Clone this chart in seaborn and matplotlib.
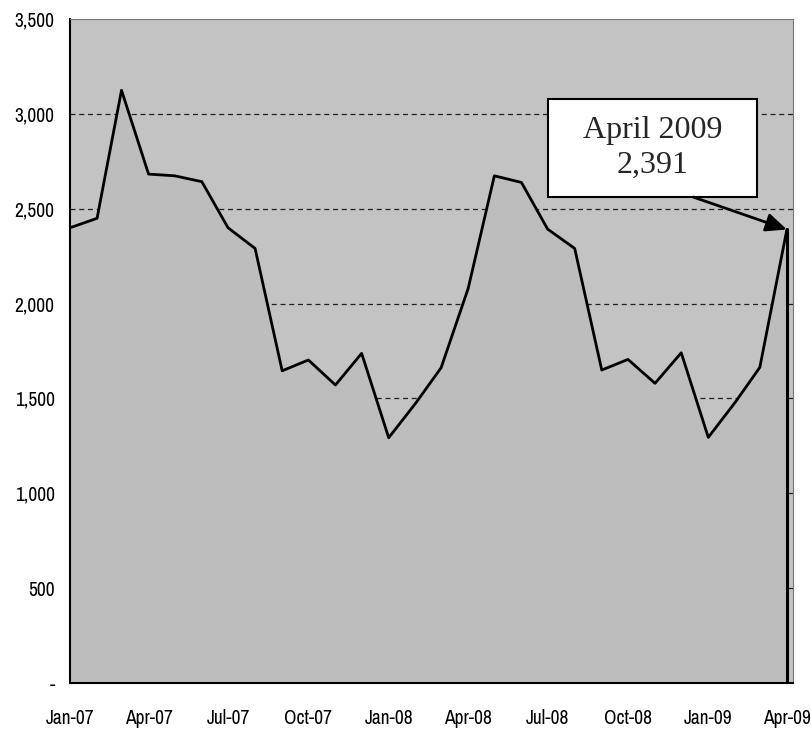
import numpy as np
import pandas as pd
import matplotlib
matplotlib.use('Agg')
import matplotlib.pyplot as plt
import matplotlib.dates as mdates
from matplotlib import font_manager
from matplotlib.patches import Rectangle
from matplotlib.ticker import FuncFormatter
import seaborn as sns

# monthly values, Jan-07 .. Apr-09
months = pd.date_range('2007-01-01', '2009-04-01', freq='MS')
values = [2400, 2450, 3125, 2683, 2674, 2643, 2400, 2291, 1646, 1703, 1571, 1738,
          1293, 1476, 1662, 2080, 2674, 2639, 2393, 2291, 1650, 1706, 1580, 1741,
          1295, 1481, 1664, 2391]
tick_dates = pd.date_range('2007-01-01', '2009-04-01', freq='QS')
y_ticks = [0, 500, 1000, 1500, 2000, 2500, 3000, 3500]
callout_text = 'April 2009\n2,391'

df = pd.DataFrame({'month': months, 'value': values})

# look for a narrow sans face, the tick labels are condensed
narrow = [f.name for f in font_manager.fontManager.ttflist
          if ('Narrow' in f.name or 'Condensed' in f.name) and 'Serif' not in f.name]
families = (narrow[:1] if narrow else []) + ['Liberation Sans', 'DejaVu Sans']

sns.set_theme(style='white')
plt.rcParams['font.family'] = families

fig = plt.figure(figsize=(8.11, 7.36), dpi=100)
ax = fig.add_axes([0.0863, 0.072, 0.8915, 0.902])
ax.set_facecolor('#c3c3c3')

# dashed grid sits behind the area, so it only shows above the line
for y in y_ticks[1:-1]:
    ax.axhline(y, color='#222222', lw=0.9, ls=(0, (4, 3)), zorder=1)

ax.fill_between(df['month'], 0, df['value'], color='#bdbdbd', zorder=2, lw=0)
sns.lineplot(data=df, x='month', y='value', color='black', lw=2, ax=ax, zorder=3)
ax.plot([months[-1], months[-1]], [0, values[-1]], color='black', lw=2.2, zorder=3)

ax.set_xlim(months[0], months[-1] + pd.Timedelta(days=7))
ax.set_ylim(0, 3500)
ax.set_yticks(y_ticks)
ax.yaxis.set_major_formatter(FuncFormatter(lambda v, p: '-' if v == 0 else f'{v:,.0f}'))
ax.set_xticks(tick_dates)
ax.xaxis.set_major_formatter(mdates.DateFormatter('%b-%y'))

ax.tick_params(axis='both', which='major', labelsize=14, colors='black',
               direction='out', length=5, width=1)
ax.tick_params(axis='x', pad=14)
ax.tick_params(axis='y', pad=6)
ax.set_xlabel('')
ax.set_ylabel('')

for side in ['left', 'bottom']:
    ax.spines[side].set_color('black')
    ax.spines[side].set_linewidth(1.5)
for side in ['top', 'right']:
    ax.spines[side].set_color('#777777')
    ax.spines[side].set_linewidth(0.8)

# callout box with arrow to the last point
ax.add_patch(Rectangle((0.661, 0.732), 0.289, 0.148, transform=ax.transAxes,
                       fc='white', ec='black', lw=1.5, zorder=5))
ax.text(0.806, 0.806, callout_text, transform=ax.transAxes, ha='center', va='center',
        fontsize=23, family=['Liberation Serif'], linespacing=1.25, zorder=6)
ax.annotate('', xy=(months[-1], values[-1]),
            xytext=(0.862, 0.732), textcoords='axes fraction',
            arrowprops=dict(arrowstyle='-|>,head_length=0.9,head_width=0.4',
                            mutation_scale=14, color='black', lw=2,
                            shrinkA=0, shrinkB=0),
            zorder=5)

plt.savefig('out.png', dpi=100)
